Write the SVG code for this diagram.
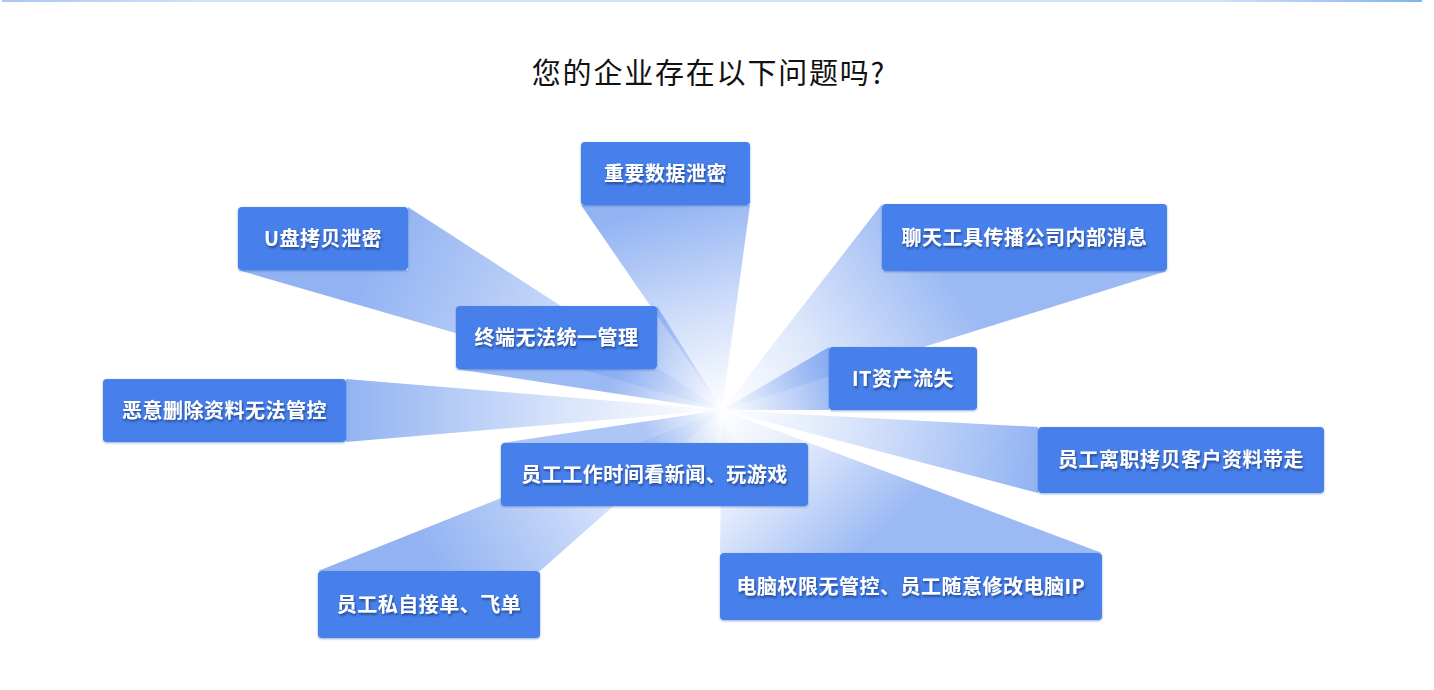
<svg xmlns="http://www.w3.org/2000/svg" width="1434" height="690" viewBox="0 0 1434 690">
<defs>
<style>
.box{fill:#4680ea;filter:url(#bs)}
.lbl{font-family:"Noto Sans CJK SC","Noto Sans",sans-serif;font-weight:700;font-size:20px;fill:#ffffff;text-anchor:middle;letter-spacing:0.5px;filter:url(#ts)}
.title{font-family:"Noto Sans CJK SC","Noto Sans",sans-serif;font-weight:400;font-size:29px;fill:#111111;text-anchor:middle;letter-spacing:1.8px}
</style>
<filter id="ts" x="-10%" y="-30%" width="120%" height="170%">
<feDropShadow dx="1" dy="2" stdDeviation="1" flood-color="#0f2a66" flood-opacity="0.65"/>
</filter>
<filter id="bs" x="-5%" y="-10%" width="110%" height="130%">
<feDropShadow dx="0" dy="1" stdDeviation="1" flood-color="#1d4aa8" flood-opacity="0.45"/>
</filter>
<linearGradient id="topbar" x1="0" y1="0" x2="1" y2="0">
<stop offset="0" stop-color="#a9c7f4"/>
<stop offset="0.15" stop-color="#d3e3f9"/>
<stop offset="0.85" stop-color="#d3e3f9"/>
<stop offset="1" stop-color="#82b2f0"/>
</linearGradient>
<linearGradient id="g1" gradientUnits="userSpaceOnUse" x1="665" y1="205" x2="722" y2="410"><stop offset="0" stop-color="#4a80ea" stop-opacity="0.6"/><stop offset="0.6" stop-color="#4a80ea" stop-opacity="0.22"/><stop offset="1" stop-color="#4a80ea" stop-opacity="0"/></linearGradient>
<linearGradient id="g2" gradientUnits="userSpaceOnUse" x1="380" y1="250" x2="722" y2="410"><stop offset="0" stop-color="#4a80ea" stop-opacity="0.6"/><stop offset="0.6" stop-color="#4a80ea" stop-opacity="0.25"/><stop offset="1" stop-color="#4a80ea" stop-opacity="0"/></linearGradient>
<linearGradient id="g3" gradientUnits="userSpaceOnUse" x1="940" y1="265" x2="722" y2="410"><stop offset="0" stop-color="#4a80ea" stop-opacity="0.55"/><stop offset="0.6" stop-color="#4a80ea" stop-opacity="0.18"/><stop offset="1" stop-color="#4a80ea" stop-opacity="0"/></linearGradient>
<linearGradient id="g4" gradientUnits="userSpaceOnUse" x1="620" y1="365" x2="722" y2="410"><stop offset="0" stop-color="#4a80ea" stop-opacity="0.55"/><stop offset="1" stop-color="#4a80ea" stop-opacity="0"/></linearGradient>
<linearGradient id="g5" gradientUnits="userSpaceOnUse" x1="829" y1="380" x2="722" y2="410"><stop offset="0" stop-color="#4a80ea" stop-opacity="0.55"/><stop offset="1" stop-color="#4a80ea" stop-opacity="0"/></linearGradient>
<linearGradient id="g6" gradientUnits="userSpaceOnUse" x1="346" y1="410" x2="722" y2="410"><stop offset="0" stop-color="#4a80ea" stop-opacity="0.6"/><stop offset="0.6" stop-color="#4a80ea" stop-opacity="0.2"/><stop offset="1" stop-color="#4a80ea" stop-opacity="0"/></linearGradient>
<linearGradient id="g7" gradientUnits="userSpaceOnUse" x1="650" y1="443" x2="722" y2="410"><stop offset="0" stop-color="#4a80ea" stop-opacity="0.45"/><stop offset="1" stop-color="#4a80ea" stop-opacity="0"/></linearGradient>
<linearGradient id="g8" gradientUnits="userSpaceOnUse" x1="1038" y1="460" x2="722" y2="410"><stop offset="0" stop-color="#4a80ea" stop-opacity="0.6"/><stop offset="0.6" stop-color="#4a80ea" stop-opacity="0.2"/><stop offset="1" stop-color="#4a80ea" stop-opacity="0"/></linearGradient>
<linearGradient id="g9" gradientUnits="userSpaceOnUse" x1="440" y1="571" x2="722" y2="410"><stop offset="0" stop-color="#4a80ea" stop-opacity="0.6"/><stop offset="0.6" stop-color="#4a80ea" stop-opacity="0.2"/><stop offset="1" stop-color="#4a80ea" stop-opacity="0"/></linearGradient>
<linearGradient id="g10" gradientUnits="userSpaceOnUse" x1="860" y1="553" x2="722" y2="410"><stop offset="0" stop-color="#4a80ea" stop-opacity="0.55"/><stop offset="0.6" stop-color="#4a80ea" stop-opacity="0.16"/><stop offset="1" stop-color="#4a80ea" stop-opacity="0"/></linearGradient>
</defs>
<rect width="1434" height="690" fill="#ffffff"/>
<rect x="2" y="0" width="1420" height="2" fill="url(#topbar)"/>
<text class="title" x="709" y="84">您的企业存在以下问题吗?</text>

<g id="connectors">
<polygon points="581,205 750,205 722,410" fill="url(#g1)"/>
<polygon points="408,207 408,270 238,270 722,410" fill="url(#g2)"/>
<polygon points="882,204 882,271 1167,271 722,410" fill="url(#g3)"/>
<polygon points="657,306 657,369 456,369 722,410" fill="url(#g4)"/>
<polygon points="829,347 829,410 722,410" fill="url(#g5)"/>
<polygon points="346,379 346,442 722,410" fill="url(#g6)"/>
<polygon points="501,443 808,443 722,410" fill="url(#g7)"/>
<polygon points="1038,427 1038,493 722,410" fill="url(#g8)"/>
<polygon points="318,571 540,571 722,410" fill="url(#g9)"/>
<polygon points="720,553 1102,553 722,410" fill="url(#g10)"/>
</g>

<g id="n1"><rect class="box" x="581" y="142" width="169" height="63" rx="4"/><text class="lbl" x="665.5" y="181">重要数据泄密</text></g>
<g id="n2"><rect class="box" x="238" y="207" width="170" height="63" rx="4"/><text class="lbl" x="323" y="246">U盘拷贝泄密</text></g>
<g id="n3"><rect class="box" x="882" y="204" width="285" height="67" rx="4"/><text class="lbl" x="1024.5" y="245">聊天工具传播公司内部消息</text></g>
<g id="n4"><rect class="box" x="456" y="306" width="201" height="63" rx="4"/><text class="lbl" x="556.5" y="345">终端无法统一管理</text></g>
<g id="n5"><rect class="box" x="829" y="347" width="148" height="63" rx="4"/><text class="lbl" x="903" y="386">IT资产流失</text></g>
<g id="n6"><rect class="box" x="103" y="379" width="243" height="63" rx="4"/><text class="lbl" x="224.5" y="418">恶意删除资料无法管控</text></g>
<g id="n7"><rect class="box" x="501" y="443" width="307" height="63" rx="4"/><text class="lbl" x="654.5" y="482">员工工作时间看新闻、玩游戏</text></g>
<g id="n8"><rect class="box" x="1038" y="427" width="286" height="66" rx="4"/><text class="lbl" x="1181" y="467">员工离职拷贝客户资料带走</text></g>
<g id="n9"><rect class="box" x="318" y="571" width="222" height="67" rx="4"/><text class="lbl" x="429" y="612">员工私自接单、飞单</text></g>
<g id="n10"><rect class="box" x="720" y="553" width="382" height="67" rx="4"/><text class="lbl" x="911" y="594">电脑权限无管控、员工随意修改电脑IP</text></g>
</svg>
